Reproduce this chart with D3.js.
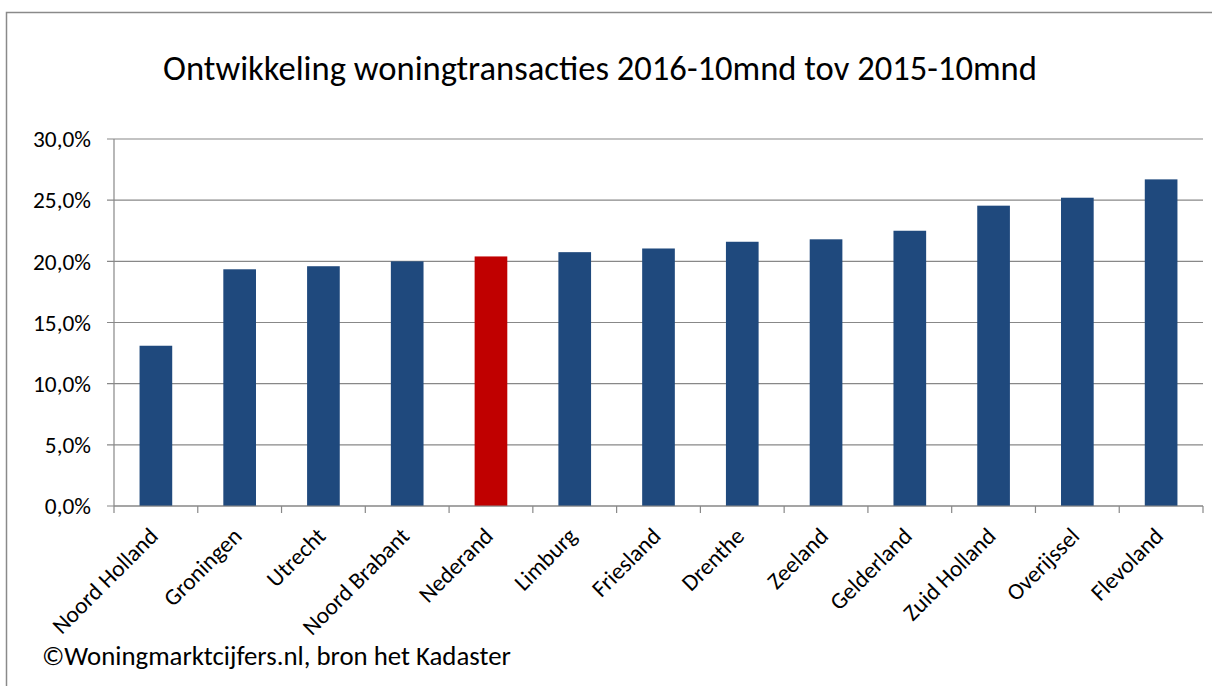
<!DOCTYPE html>
<html>
<head>
<meta charset="utf-8">
<script src="https://cdn.jsdelivr.net/npm/d3@7"></script>
<style>
  body { margin: 0; background: #fff; }
  text { font-family: Carlito, Calibri, Lato, "Open Sans", sans-serif; fill: #000; }
</style>
</head>
<body>
<svg></svg>
<script>
// Data
const categories = ["Noord Holland", "Groningen", "Utrecht", "Noord Brabant", "Nederand", "Limburg",
    "Friesland", "Drenthe", "Zeeland", "Gelderland", "Zuid Holland", "Overijssel", "Flevoland"];
const values = [13.1, 19.35, 19.6, 20.0, 20.4, 20.75, 21.05, 21.6, 21.8, 22.5, 24.55, 25.2, 26.7];
const highlight = ["Nederand"];
const yTicks = [0, 5, 10, 15, 20, 25, 30];
const title = "Ontwikkeling woningtransacties 2016-10mnd tov 2015-10mnd";
const footnote = "©Woningmarktcijfers.nl, bron het Kadaster";

const width = 1212, height = 686;
const plot = { left: 114, right: 1203, top: 139, bottom: 506 };

const svg = d3.select("svg")
    .attr("width", width)
    .attr("height", height);

// outer frame (right and bottom are cut off in the picture)
svg.append("rect")
    .attr("x", 6.5).attr("y", 12.5)
    .attr("width", 1400).attr("height", 900)
    .attr("fill", "none")
    .attr("stroke", "#8a8a8a")
    .attr("stroke-width", 1.5);

// fit a text element to a target width
function fitWidth(sel, target) {
    const len = sel.node().getComputedTextLength();
    const fs = parseFloat(sel.attr("font-size"));
    sel.attr("font-size", fs * target / len);
}

const titleText = svg.append("text")
    .attr("x", (163 + 1037) / 2)
    .attr("y", 80)
    .attr("text-anchor", "middle")
    .attr("font-size", 31)
    .text(title);
fitWidth(titleText, 874);

const x = d3.scaleBand()
    .domain(categories)
    .range([plot.left, plot.right])
    .paddingInner(0.61)
    .paddingOuter(0.305);

const y = d3.scaleLinear()
    .domain([0, 30])
    .range([plot.bottom, plot.top]);

// gridlines
svg.append("g")
    .selectAll("line")
    .data(yTicks)
    .enter().append("line")
    .attr("x1", plot.left - 7)
    .attr("x2", plot.right)
    .attr("y1", d => y(d))
    .attr("y2", d => y(d))
    .attr("stroke", "#888")
    .attr("stroke-width", 1.2);

// y labels
const fmt = d => d.toFixed(1).replace(".", ",") + "%";
const yLabels = svg.append("g")
    .selectAll("text")
    .data(yTicks)
    .enter().append("text")
    .attr("x", 91)
    .attr("y", d => y(d))
    .attr("dy", "0.35em")
    .attr("text-anchor", "end")
    .attr("font-size", 19)
    .text(fmt);
fitWidth(d3.select(yLabels.nodes()[6]), 58);
yLabels.attr("font-size", d3.select(yLabels.nodes()[6]).attr("font-size"));

// bars
svg.append("g")
    .selectAll("rect")
    .data(categories)
    .enter().append("rect")
    .attr("x", d => x(d))
    .attr("width", x.bandwidth())
    .attr("y", (d, i) => y(values[i]))
    .attr("height", (d, i) => y(0) - y(values[i]))
    .attr("fill", d => highlight.includes(d) ? "#C00000" : "#1F497D");

// axes lines
svg.append("line")
    .attr("x1", plot.left).attr("x2", plot.left)
    .attr("y1", plot.top).attr("y2", plot.bottom)
    .attr("stroke", "#888").attr("stroke-width", 1.2);
svg.append("line")
    .attr("x1", plot.left).attr("x2", plot.right)
    .attr("y1", plot.bottom).attr("y2", plot.bottom)
    .attr("stroke", "#888").attr("stroke-width", 1.2);

// x ticks at category boundaries
const step = x.step();
svg.append("g")
    .selectAll("line")
    .data(d3.range(categories.length + 1))
    .enter().append("line")
    .attr("x1", i => plot.left + i * step)
    .attr("x2", i => plot.left + i * step)
    .attr("y1", plot.bottom)
    .attr("y2", plot.bottom + 7)
    .attr("stroke", "#888")
    .attr("stroke-width", 1.2);

// x labels rotated
svg.append("g")
    .selectAll("text")
    .data(categories)
    .enter().append("text")
    .attr("transform", d => `translate(${x(d) + x.bandwidth() / 2 - 8},${plot.bottom + 20}) rotate(-45)`)
    .attr("text-anchor", "end")
    .attr("dy", "0.7em")
    .attr("font-size", yLabels.attr("font-size"))
    .text(d => d);

const foot = svg.append("text")
    .attr("x", 42)
    .attr("y", 665)
    .attr("font-size", 23)
    .text(footnote);
fitWidth(foot, 469);
</script>
</body>
</html>
